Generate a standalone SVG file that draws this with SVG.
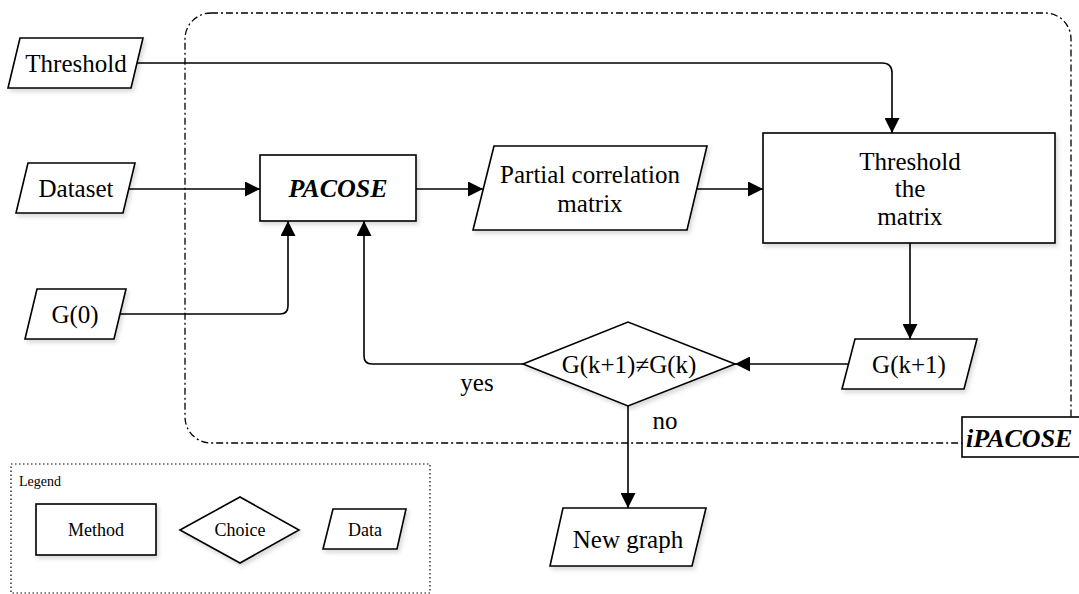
<svg xmlns="http://www.w3.org/2000/svg" width="1079" height="594" viewBox="0 0 1079 594">
<style>
.shape{fill:#fff;stroke:#000;stroke-width:1.6;filter:url(#sh)}
.t{font-family:"Liberation Serif","Times New Roman",serif;font-size:25px;fill:#000;text-anchor:middle}
.bi{font-weight:bold;font-style:italic}
.lg{font-size:18px}
.conn{fill:none;stroke:#000;stroke-width:1.6}
.frame{fill:none;stroke:#000;stroke-width:1.3;stroke-dasharray:7 3 2 3}
</style>
<defs>
<filter id="sh" x="-10%" y="-10%" width="130%" height="140%">
<feDropShadow dx="2" dy="3" stdDeviation="2" flood-color="#000" flood-opacity="0.15"/>
</filter>
<marker id="arr" markerUnits="userSpaceOnUse" markerWidth="15" markerHeight="15" refX="15" refY="7.5" orient="auto">
<path d="M0,0 L15,7.5 L0,15 z" fill="#000"/>
</marker>
</defs>
<rect id="ipacose-frame" class="frame" x="185" y="13" width="886" height="430" rx="26" ry="26"/>
<g id="legend">
<rect x="11" y="464" width="419" height="129" fill="none" stroke="#000" stroke-width="1.2" stroke-dasharray="1.5 2.5"/>
<text class="t" x="19" y="486" style="font-size:14px;text-anchor:start">Legend</text>
<rect class="shape" x="36" y="504" width="120" height="51"/>
<text class="t lg" x="96" y="536">Method</text>
<polygon class="shape" points="180,530 240,497 299,530 240,563"/>
<text class="t lg" x="240" y="536">Choice</text>
<polygon class="shape" points="333,509 406,509 397,549 323,549"/>
<text class="t lg" x="365" y="536">Data</text>
</g>
<g id="connectors">
<path class="conn" d="M137,63 H882 Q892,63 892,73 V133" marker-end="url(#arr)"/>
<path class="conn" d="M129,189 H260" marker-end="url(#arr)"/>
<path class="conn" d="M119,314 H280 Q288,314 288,306 V221" marker-end="url(#arr)"/>
<path class="conn" d="M416,189 H483" marker-end="url(#arr)"/>
<path class="conn" d="M697,189 H763" marker-end="url(#arr)"/>
<path class="conn" d="M910,243 V339" marker-end="url(#arr)"/>
<path class="conn" d="M849,364 H735" marker-end="url(#arr)"/>
<path class="conn" d="M523,364 H372 Q364,364 364,356 V221" marker-end="url(#arr)"/>
<path class="conn" d="M628,406 V508" marker-end="url(#arr)"/>
<text class="t" x="477" y="391">yes</text>
<text class="t" x="665" y="429">no</text>
</g>
<g id="threshold-input">
<polygon class="shape" points="20,38 143,38 131,88 8,88"/>
<text class="t" x="76" y="72">Threshold</text>
</g>
<g id="dataset">
<polygon class="shape" points="28,163 135,163 123,213 16,213"/>
<text class="t" x="76" y="197">Dataset</text>
</g>
<g id="g0">
<polygon class="shape" points="37,289 126,289 114,339 25,339"/>
<text class="t" x="75" y="323">G(0)</text>
</g>
<g id="pacose">
<rect class="shape" x="260" y="155" width="156" height="66"/>
<text class="t bi" x="338" y="197" style="font-size:26px">PACOSE</text>
</g>
<g id="pcm">
<polygon class="shape" points="494,146 707,146 687,230 473,230"/>
<text class="t" x="590" y="183">Partial correlation</text>
<text class="t" x="590" y="212">matrix</text>
</g>
<g id="threshold-matrix">
<rect class="shape" x="763" y="133" width="292" height="110"/>
<text class="t" x="910" y="170">Threshold</text>
<text class="t" x="910" y="197">the</text>
<text class="t" x="910" y="225">matrix</text>
</g>
<g id="gk1">
<polygon class="shape" points="855,339 977,339 964,389 842,389"/>
<text class="t" x="909" y="373">G(k+1)</text>
</g>
<g id="choice">
<polygon class="shape" points="523,364 628,322 735,364 628,406"/>
<text class="t" x="629" y="373">G(k+1)≠G(k)</text>
</g>
<g id="new-graph">
<polygon class="shape" points="563,508 706,508 692,566 550,566"/>
<text class="t" x="628" y="548">New graph</text>
</g>
<g id="ipacose-label">
<rect x="962" y="417" width="130" height="40" fill="#fff" stroke="#000" stroke-width="1.6"/>
<text class="t bi" x="966" y="447" style="font-size:26px;text-anchor:start">iPACOSE</text>
</g>
</svg>
